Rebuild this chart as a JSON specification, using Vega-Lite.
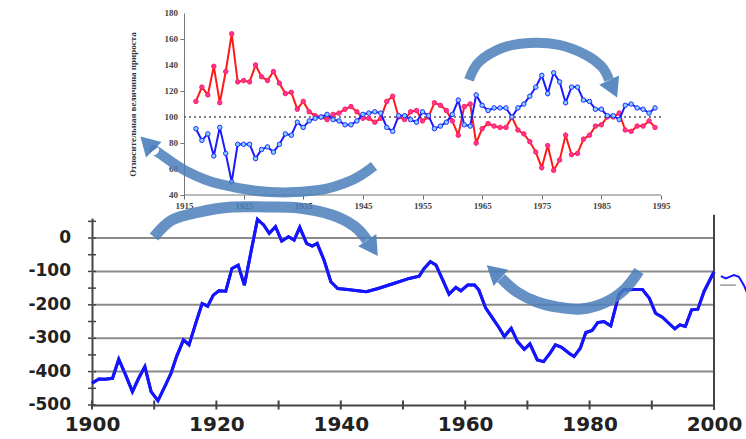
{
  "$schema": "https://vega.github.io/schema/vega-lite/v6.json",
  "background": "white",
  "padding": {"left": 28, "top": 9, "right": 0, "bottom": 0},
  "spacing": 23,
  "bounds": "flush",
  "config": {"view": {"stroke": null}, "font": "Liberation Serif", "axis": {"labelOverlap": false}},
  "datasets": {
    "topData": [
      {"year": 1917, "red": 112, "blue": 91}, {"year": 1918, "red": 123, "blue": 82},
      {"year": 1919, "red": 117, "blue": 87}, {"year": 1920, "red": 139, "blue": 70},
      {"year": 1921, "red": 111, "blue": 92}, {"year": 1922, "red": 135, "blue": 72},
      {"year": 1923, "red": 164, "blue": 50}, {"year": 1924, "red": 127, "blue": 79},
      {"year": 1925, "red": 128, "blue": 79}, {"year": 1926, "red": 127, "blue": 79},
      {"year": 1927, "red": 140, "blue": 68}, {"year": 1928, "red": 131, "blue": 75},
      {"year": 1929, "red": 128, "blue": 77}, {"year": 1930, "red": 135, "blue": 73},
      {"year": 1931, "red": 126, "blue": 79}, {"year": 1932, "red": 118, "blue": 87},
      {"year": 1933, "red": 119, "blue": 86}, {"year": 1934, "red": 106, "blue": 96},
      {"year": 1935, "red": 112, "blue": 92}, {"year": 1936, "red": 104, "blue": 97},
      {"year": 1937, "red": 101, "blue": 99}, {"year": 1938, "red": 100, "blue": 100},
      {"year": 1939, "red": 98, "blue": 102}, {"year": 1940, "red": 102, "blue": 98},
      {"year": 1941, "red": 103, "blue": 97}, {"year": 1942, "red": 106, "blue": 94},
      {"year": 1943, "red": 108, "blue": 94}, {"year": 1944, "red": 104, "blue": 97},
      {"year": 1945, "red": 99, "blue": 102}, {"year": 1946, "red": 99, "blue": 103},
      {"year": 1947, "red": 96, "blue": 104}, {"year": 1948, "red": 99, "blue": 103},
      {"year": 1949, "red": 112, "blue": 92}, {"year": 1950, "red": 116, "blue": 89},
      {"year": 1951, "red": 100, "blue": 101}, {"year": 1952, "red": 98, "blue": 101},
      {"year": 1953, "red": 104, "blue": 98}, {"year": 1954, "red": 105, "blue": 96},
      {"year": 1955, "red": 97, "blue": 104}, {"year": 1956, "red": 100, "blue": 101},
      {"year": 1957, "red": 111, "blue": 91}, {"year": 1958, "red": 109, "blue": 93},
      {"year": 1959, "red": 105, "blue": 96}, {"year": 1960, "red": 97, "blue": 102},
      {"year": 1961, "red": 86, "blue": 113}, {"year": 1962, "red": 108, "blue": 94},
      {"year": 1963, "red": 110, "blue": 93}, {"year": 1964, "red": 80, "blue": 117},
      {"year": 1965, "red": 91, "blue": 109}, {"year": 1966, "red": 95, "blue": 105},
      {"year": 1967, "red": 93, "blue": 107}, {"year": 1968, "red": 92, "blue": 107},
      {"year": 1969, "red": 92, "blue": 107}, {"year": 1970, "red": 100, "blue": 100},
      {"year": 1971, "red": 90, "blue": 107}, {"year": 1972, "red": 87, "blue": 110},
      {"year": 1973, "red": 81, "blue": 116}, {"year": 1974, "red": 73, "blue": 123},
      {"year": 1975, "red": 61, "blue": 132}, {"year": 1976, "red": 78, "blue": 118},
      {"year": 1977, "red": 59, "blue": 134}, {"year": 1978, "red": 67, "blue": 127},
      {"year": 1979, "red": 86, "blue": 111}, {"year": 1980, "red": 71, "blue": 123},
      {"year": 1981, "red": 72, "blue": 123}, {"year": 1982, "red": 83, "blue": 113},
      {"year": 1983, "red": 86, "blue": 112}, {"year": 1984, "red": 93, "blue": 106},
      {"year": 1985, "red": 94, "blue": 106}, {"year": 1986, "red": 100, "blue": 101},
      {"year": 1987, "red": 100, "blue": 101}, {"year": 1988, "red": 103, "blue": 98},
      {"year": 1989, "red": 90, "blue": 109}, {"year": 1990, "red": 89, "blue": 110},
      {"year": 1991, "red": 93, "blue": 107}, {"year": 1992, "red": 93, "blue": 106},
      {"year": 1993, "red": 97, "blue": 103}, {"year": 1994, "red": 92, "blue": 107}
    ],
    "topLabels": [
      {"red": 40, "lab": "40"}, {"red": 60, "lab": "60"}, {"red": 80, "lab": "80"}, {"red": 100, "lab": "100"},
      {"red": 120, "lab": "120"}, {"red": 140, "lab": "140"}, {"red": 160, "lab": "160"}, {"red": 180, "lab": "180"}
    ],
    "botData": [
      {"year": 1900, "v": -435, "seg": "main"}, {"year": 1901.1, "v": -422, "seg": "main"},
      {"year": 1902.1, "v": -423, "seg": "main"}, {"year": 1903.3, "v": -420, "seg": "main"},
      {"year": 1904.3, "v": -363, "seg": "main"}, {"year": 1905.4, "v": -410, "seg": "main"},
      {"year": 1906.5, "v": -460, "seg": "main"}, {"year": 1907.5, "v": -420, "seg": "main"},
      {"year": 1908.5, "v": -385, "seg": "main"}, {"year": 1909.5, "v": -460, "seg": "main"},
      {"year": 1910.6, "v": -487, "seg": "main"}, {"year": 1911.7, "v": -445, "seg": "main"},
      {"year": 1912.7, "v": -405, "seg": "main"}, {"year": 1913.6, "v": -355, "seg": "main"},
      {"year": 1914.7, "v": -305, "seg": "main"}, {"year": 1915.6, "v": -320, "seg": "main"},
      {"year": 1916.6, "v": -260, "seg": "main"}, {"year": 1917.7, "v": -196, "seg": "main"},
      {"year": 1918.6, "v": -204, "seg": "main"}, {"year": 1919.5, "v": -171, "seg": "main"},
      {"year": 1920.4, "v": -158, "seg": "main"}, {"year": 1921.5, "v": -159, "seg": "main"},
      {"year": 1922.5, "v": -91, "seg": "main"}, {"year": 1923.5, "v": -81, "seg": "main"},
      {"year": 1924.5, "v": -141, "seg": "main"}, {"year": 1926.6, "v": 56, "seg": "main"},
      {"year": 1927.6, "v": 39, "seg": "main"}, {"year": 1928.5, "v": 14, "seg": "main"},
      {"year": 1929.5, "v": 34, "seg": "main"}, {"year": 1930.5, "v": -9, "seg": "main"},
      {"year": 1931.6, "v": 4, "seg": "main"}, {"year": 1932.5, "v": -6, "seg": "main"},
      {"year": 1933.4, "v": 32, "seg": "main"}, {"year": 1934.5, "v": -16, "seg": "main"},
      {"year": 1935.4, "v": -24, "seg": "main"}, {"year": 1936.2, "v": -16, "seg": "main"},
      {"year": 1937.3, "v": -66, "seg": "main"}, {"year": 1938.4, "v": -131, "seg": "main"},
      {"year": 1939.5, "v": -151, "seg": "main"}, {"year": 1941.1, "v": -154, "seg": "main"},
      {"year": 1942.7, "v": -158, "seg": "main"}, {"year": 1944.1, "v": -161, "seg": "main"},
      {"year": 1946, "v": -151, "seg": "main"}, {"year": 1948.5, "v": -136, "seg": "main"},
      {"year": 1951, "v": -121, "seg": "main"}, {"year": 1952.6, "v": -114, "seg": "main"},
      {"year": 1953.4, "v": -91, "seg": "main"}, {"year": 1954.4, "v": -71, "seg": "main"},
      {"year": 1955.3, "v": -81, "seg": "main"}, {"year": 1956.4, "v": -126, "seg": "main"},
      {"year": 1957.4, "v": -168, "seg": "main"}, {"year": 1958.5, "v": -148, "seg": "main"},
      {"year": 1959.3, "v": -158, "seg": "main"}, {"year": 1960.4, "v": -141, "seg": "main"},
      {"year": 1961.5, "v": -141, "seg": "main"}, {"year": 1962.2, "v": -156, "seg": "main"},
      {"year": 1963.3, "v": -210, "seg": "main"}, {"year": 1964.4, "v": -240, "seg": "main"},
      {"year": 1965.5, "v": -270, "seg": "main"}, {"year": 1966.3, "v": -295, "seg": "main"},
      {"year": 1967.4, "v": -270, "seg": "main"}, {"year": 1968.4, "v": -310, "seg": "main"},
      {"year": 1969.5, "v": -333, "seg": "main"}, {"year": 1970.4, "v": -317, "seg": "main"},
      {"year": 1971.6, "v": -365, "seg": "main"}, {"year": 1972.6, "v": -370, "seg": "main"},
      {"year": 1973.7, "v": -343, "seg": "main"}, {"year": 1974.5, "v": -320, "seg": "main"},
      {"year": 1975.5, "v": -327, "seg": "main"}, {"year": 1976.7, "v": -345, "seg": "main"},
      {"year": 1977.5, "v": -355, "seg": "main"}, {"year": 1978.5, "v": -330, "seg": "main"},
      {"year": 1979.4, "v": -283, "seg": "main"}, {"year": 1980.4, "v": -277, "seg": "main"},
      {"year": 1981.3, "v": -253, "seg": "main"}, {"year": 1982.3, "v": -250, "seg": "main"},
      {"year": 1983.4, "v": -263, "seg": "main"}, {"year": 1984.7, "v": -170, "seg": "main"},
      {"year": 1985.5, "v": -155, "seg": "main"}, {"year": 1987.1, "v": -154, "seg": "main"},
      {"year": 1988.5, "v": -154, "seg": "main"}, {"year": 1989.6, "v": -180, "seg": "main"},
      {"year": 1990.6, "v": -225, "seg": "main"}, {"year": 1991.7, "v": -237, "seg": "main"},
      {"year": 1992.6, "v": -253, "seg": "main"}, {"year": 1993.7, "v": -272, "seg": "main"},
      {"year": 1994.5, "v": -260, "seg": "main"}, {"year": 1995.4, "v": -265, "seg": "main"},
      {"year": 1996.4, "v": -215, "seg": "main"}, {"year": 1997.4, "v": -213, "seg": "main"},
      {"year": 1998.4, "v": -160, "seg": "main"}, {"year": 2000, "v": -101, "seg": "main"},
      {"year": 2001.1, "v": -114, "seg": "ext"}, {"year": 2001.9, "v": -121, "seg": "ext"},
      {"year": 2003.2, "v": -111, "seg": "ext"}, {"year": 2004, "v": -116, "seg": "ext"},
      {"year": 2004.8, "v": -141, "seg": "ext"}, {"year": 2005.6, "v": -176, "seg": "ext"}
    ],
    "botLabels": [
      {"v": 0, "lab": "0"}, {"v": -100, "lab": "-100"}, {"v": -200, "lab": "-200"},
      {"v": -300, "lab": "-300"}, {"v": -400, "lab": "-400"}, {"v": -500, "lab": "-500"}
    ],
    "ticksY": [
      {"v": -500}, {"v": -450}, {"v": -400}, {"v": -350}, {"v": -300}, {"v": -250},
      {"v": -200}, {"v": -150}, {"v": -100}, {"v": -50}, {"v": 0}, {"v": 50}
    ],
    "ticksX": [
      {"year": 1900}, {"year": 1910}, {"year": 1920}, {"year": 1930}, {"year": 1940}, {"year": 1950},
      {"year": 1960}, {"year": 1970}, {"year": 1980}, {"year": 1990}, {"year": 2000}
    ],
    "arrTop": [
      {"arrow": "a1", "i": 0, "year": 1946.87, "v": 62.3},
      {"arrow": "a1", "i": 1, "year": 1943.18, "v": 51.5},
      {"arrow": "a1", "i": 2, "year": 1937.64, "v": 43.8},
      {"arrow": "a1", "i": 3, "year": 1929.26, "v": 42.3},
      {"arrow": "a1", "i": 4, "year": 1920.87, "v": 48.5},
      {"arrow": "a1", "i": 5, "year": 1915.34, "v": 58.5},
      {"arrow": "a1", "i": 6, "year": 1910.81, "v": 72.3},
      {"arrow": "a1", "i": 7, "year": 1909.97, "v": 74.6},
      {"arrow": "a3", "i": 0, "year": 1962.8, "v": 128.5},
      {"arrow": "a3", "i": 1, "year": 1964.47, "v": 142.3},
      {"arrow": "a3", "i": 2, "year": 1968.33, "v": 153.1},
      {"arrow": "a3", "i": 3, "year": 1972.86, "v": 156.9},
      {"arrow": "a3", "i": 4, "year": 1977.89, "v": 155.4},
      {"arrow": "a3", "i": 5, "year": 1982.42, "v": 147.7},
      {"arrow": "a3", "i": 6, "year": 1985.1, "v": 138.5},
      {"arrow": "a3", "i": 7, "year": 1986.28, "v": 128.5}
    ],
    "arrBot": [
      {"arrow": "a2", "i": 0, "year": 1909.97, "v": 3},
      {"arrow": "a2", "i": 1, "year": 1912.86, "v": 53.9},
      {"arrow": "a2", "i": 2, "year": 1917.2, "v": 77.8},
      {"arrow": "a2", "i": 3, "year": 1922.5, "v": 92.8},
      {"arrow": "a2", "i": 4, "year": 1927.97, "v": 92.8},
      {"arrow": "a2", "i": 5, "year": 1933.28, "v": 89.8},
      {"arrow": "a2", "i": 6, "year": 1938.59, "v": 68.9},
      {"arrow": "a2", "i": 7, "year": 1942.12, "v": 35.9},
      {"arrow": "a2", "i": 8, "year": 1944.21, "v": -6},
      {"arrow": "a4", "i": 0, "year": 1987.94, "v": -98.8},
      {"arrow": "a4", "i": 1, "year": 1985.53, "v": -155.7},
      {"arrow": "a4", "i": 2, "year": 1982.32, "v": -194.6},
      {"arrow": "a4", "i": 3, "year": 1978.62, "v": -212.6},
      {"arrow": "a4", "i": 4, "year": 1974.76, "v": -206.6},
      {"arrow": "a4", "i": 5, "year": 1971.54, "v": -191.6},
      {"arrow": "a4", "i": 6, "year": 1968.33, "v": -161.7},
      {"arrow": "a4", "i": 7, "year": 1965.76, "v": -119.8}
    ],
    "headTop": [
      {"arrow": "a1", "year": 1908.81, "v": 79.9},
      {"arrow": "a3", "year": 1986.97, "v": 121.7}
    ],
    "headBot": [
      {"arrow": "a2", "year": 1945.1, "v": -29.9},
      {"arrow": "a4", "year": 1964.6, "v": -100.6}
    ]
  },
  "vconcat": [
    {
      "width": 569,
      "height": 182,
      "layer": [
        {
          "data": {"name": "topData"},
          "mark": {"type": "line", "color": "#ff1a1a", "strokeWidth": 2},
          "encoding": {
            "x": {
              "field": "year", "type": "quantitative",
              "scale": {"domain": [1899.57, 1995], "nice": false, "zero": false},
              "axis": {
                "values": [1915, 1920, 1925, 1930, 1935, 1940, 1945, 1950, 1955, 1960, 1965, 1970, 1975, 1980, 1985, 1990, 1995],
                "labelExpr": "(datum.value - 1915) % 10 == 0 ? datum.label : ''",
                "format": "d", "domain": false, "grid": false, "tickSize": 4, "tickColor": "#666666",
                "labelFont": "Liberation Serif", "labelFontSize": 9, "labelFontWeight": "bold", "labelColor": "#444444",
                "labelPadding": 2, "title": null, "labelFlush": false, "labelOverlap": false
              }
            },
            "y": {
              "field": "red", "type": "quantitative",
              "scale": {"domain": [40, 180], "nice": false, "zero": false},
              "axis": {
                "values": [40, 60, 80, 100, 120, 140, 160, 180], "offset": -92, "grid": false, "labels": false,
                "domainColor": "#777777", "tickColor": "#777777", "tickSize": 4,
                "title": "Относительная величина прироста", "titleFont": "Liberation Serif", "titleFontSize": 9,
                "titleFontWeight": "bold", "titleColor": "#333333", "titlePadding": 42
              }
            }
          }
        },
        {
          "data": {"name": "topLabels"},
          "mark": {"type": "text", "align": "right", "baseline": "middle", "dx": -6, "font": "Liberation Serif", "fontSize": 9, "fontWeight": "bold", "color": "#444444"},
          "encoding": {
            "x": {"datum": 1915, "type": "quantitative"},
            "y": {"field": "red", "type": "quantitative"},
            "text": {"field": "lab"}
          }
        },
        {
          "data": {"values": [{"year": 1915, "b": 1995, "red": 100}]},
          "mark": {"type": "rule", "strokeDash": [2, 3], "color": "#555555", "strokeWidth": 1.5},
          "encoding": {
            "x": {"field": "year", "type": "quantitative"},
            "x2": {"field": "b"},
            "y": {"field": "red", "type": "quantitative"}
          }
        },
        {
          "data": {"values": [{"year": 1915, "b": 1995, "red": 40}]},
          "mark": {"type": "rule", "color": "#777777", "strokeWidth": 1},
          "encoding": {
            "x": {"field": "year", "type": "quantitative"},
            "x2": {"field": "b"},
            "y": {"field": "red", "type": "quantitative"}
          }
        },
        {
          "data": {"name": "topData"},
          "mark": {"type": "point", "filled": true, "fill": "#ff3399", "stroke": "#ff2060", "strokeWidth": 1, "size": 20, "opacity": 1},
          "encoding": {
            "x": {"field": "year", "type": "quantitative"},
            "y": {"field": "red", "type": "quantitative"}
          }
        },
        {
          "data": {"name": "topData"},
          "mark": {"type": "line", "color": "#1a1aff", "strokeWidth": 2},
          "encoding": {
            "x": {"field": "year", "type": "quantitative"},
            "y": {"field": "blue", "type": "quantitative"}
          }
        },
        {
          "data": {"name": "topData"},
          "mark": {"type": "point", "filled": true, "fill": "#7fd4ff", "stroke": "#2a2aff", "strokeWidth": 1, "size": 20, "opacity": 1},
          "encoding": {
            "x": {"field": "year", "type": "quantitative"},
            "y": {"field": "blue", "type": "quantitative"}
          }
        },
        {
          "data": {"name": "arrTop"},
          "mark": {"type": "line", "interpolate": "cardinal", "strokeWidth": 10, "color": "#4a7ebb", "opacity": 0.85, "strokeCap": "butt"},
          "encoding": {
            "x": {"field": "year", "type": "quantitative"},
            "y": {"field": "v", "type": "quantitative"},
            "detail": {"field": "arrow"},
            "order": {"field": "i", "type": "quantitative"}
          }
        },
        {
          "data": {"name": "headTop"},
          "transform": [{"filter": "datum.arrow == 'a1'"}],
          "mark": {"type": "point", "shape": "triangle-up", "size": 480, "filled": true, "color": "#4a7ebb", "opacity": 0.9, "angle": -45},
          "encoding": {
            "x": {"field": "year", "type": "quantitative"},
            "y": {"field": "v", "type": "quantitative"}
          }
        },
        {
          "data": {"name": "headTop"},
          "transform": [{"filter": "datum.arrow == 'a3'"}],
          "mark": {"type": "point", "shape": "triangle-up", "size": 480, "filled": true, "color": "#4a7ebb", "opacity": 0.9, "angle": 155},
          "encoding": {
            "x": {"field": "year", "type": "quantitative"},
            "y": {"field": "v", "type": "quantitative"}
          }
        }
      ]
    },
    {
      "width": 622,
      "height": 187,
      "layer": [
        {
          "data": {"name": "botData"},
          "transform": [{"filter": "datum.seg == 'main'"}],
          "mark": {"type": "line", "color": "#1414ff", "strokeWidth": 3},
          "encoding": {
            "x": {
              "field": "year", "type": "quantitative",
              "scale": {"domain": [1900, 2000], "nice": false, "zero": false},
              "axis": {
                "values": [1900, 1920, 1940, 1960, 1980, 2000],
                "format": "d", "grid": false, "domainColor": "#444444", "domainWidth": 2, "ticks": false,
                "labelFont": "DejaVu Sans", "labelFontWeight": "bold", "labelFontSize": 20, "labelColor": "#222222",
                "labelPadding": 9, "title": null, "labelFlush": false, "labelOverlap": false
              }
            },
            "y": {
              "field": "v", "type": "quantitative",
              "scale": {"domain": [-500, 60], "nice": false, "zero": false},
              "axis": {
                "values": [-500, 0], "labels": false,
                "grid": false, "domainColor": "#444444", "domainWidth": 2, "ticks": false, "title": null
              }
            }
          }
        },
        {
          "data": {"values": [{"v": 0}, {"v": -100}, {"v": -200}, {"v": -300}, {"v": -400}]},
          "mark": {"type": "rule", "color": "#8a8a8a", "strokeWidth": 2},
          "encoding": {
            "y": {"field": "v", "type": "quantitative"}
          }
        },
        {
          "data": {"name": "botLabels"},
          "mark": {"type": "text", "align": "right", "baseline": "middle", "dx": -21, "font": "DejaVu Sans", "fontSize": 17, "fontWeight": "bold", "color": "#222222"},
          "encoding": {
            "x": {"datum": 1900, "type": "quantitative"},
            "y": {"field": "v", "type": "quantitative"},
            "text": {"field": "lab"}
          }
        },
        {
          "data": {"name": "ticksY"},
          "mark": {"type": "tick", "orient": "horizontal", "size": 8, "thickness": 1.5, "color": "#444444", "opacity": 1},
          "encoding": {
            "x": {"datum": 1900, "type": "quantitative"},
            "y": {"field": "v", "type": "quantitative"}
          }
        },
        {
          "data": {"name": "ticksX"},
          "mark": {"type": "tick", "orient": "vertical", "size": 9, "thickness": 2, "color": "#444444", "opacity": 1},
          "encoding": {
            "x": {"field": "year", "type": "quantitative"},
            "y": {"datum": -500, "type": "quantitative"}
          }
        },
        {
          "data": {"values": [{"year": 2000, "v": -515, "hi": 70}]},
          "mark": {"type": "rule", "color": "#444444", "strokeWidth": 2},
          "encoding": {
            "x": {"field": "year", "type": "quantitative"},
            "y": {"field": "v", "type": "quantitative"},
            "y2": {"field": "hi"}
          }
        },
        {
          "data": {"values": [{"year": 2001, "b": 2003.5, "v": -141}]},
          "mark": {"type": "rule", "color": "#999999", "strokeWidth": 1.5},
          "encoding": {
            "x": {"field": "year", "type": "quantitative"},
            "x2": {"field": "b"},
            "y": {"field": "v", "type": "quantitative"}
          }
        },
        {
          "data": {"name": "botData"},
          "transform": [{"filter": "datum.seg == 'ext'"}],
          "mark": {"type": "line", "color": "#1414ff", "strokeWidth": 2},
          "encoding": {
            "x": {"field": "year", "type": "quantitative"},
            "y": {"field": "v", "type": "quantitative"}
          }
        },
        {
          "data": {"name": "botData"},
          "transform": [{"filter": "datum.seg == 'main'"}],
          "mark": {"type": "line", "color": "#1414ff", "strokeWidth": 3},
          "encoding": {
            "x": {"field": "year", "type": "quantitative"},
            "y": {"field": "v", "type": "quantitative"}
          }
        },
        {
          "data": {"name": "arrBot"},
          "mark": {"type": "line", "interpolate": "cardinal", "strokeWidth": 11, "color": "#4a7ebb", "opacity": 0.85, "strokeCap": "butt"},
          "encoding": {
            "x": {"field": "year", "type": "quantitative"},
            "y": {"field": "v", "type": "quantitative"},
            "detail": {"field": "arrow"},
            "order": {"field": "i", "type": "quantitative"}
          }
        },
        {
          "data": {"name": "headBot"},
          "transform": [{"filter": "datum.arrow == 'a2'"}],
          "mark": {"type": "point", "shape": "triangle-up", "size": 480, "filled": true, "color": "#4a7ebb", "opacity": 0.9, "angle": 146},
          "encoding": {
            "x": {"field": "year", "type": "quantitative"},
            "y": {"field": "v", "type": "quantitative"}
          }
        },
        {
          "data": {"name": "headBot"},
          "transform": [{"filter": "datum.arrow == 'a4'"}],
          "mark": {"type": "point", "shape": "triangle-up", "size": 480, "filled": true, "color": "#4a7ebb", "opacity": 0.9, "angle": -48},
          "encoding": {
            "x": {"field": "year", "type": "quantitative"},
            "y": {"field": "v", "type": "quantitative"}
          }
        }
      ]
    }
  ]
}
